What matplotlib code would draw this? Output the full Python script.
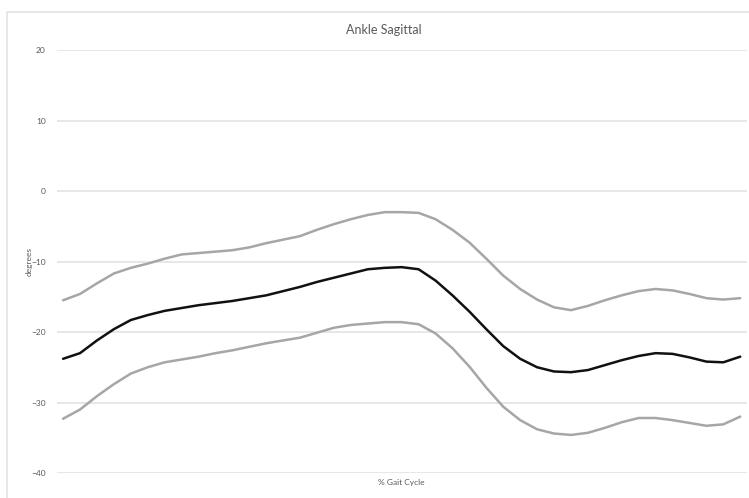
import matplotlib
matplotlib.use('Agg')
import matplotlib.pyplot as plt
from matplotlib.patches import Rectangle

# % gait cycle, 2.5% steps
gait = [i * 2.5 for i in range(41)]

upper = [-15.5, -14.6, -13.1, -11.7, -10.9, -10.3, -9.6, -9.0, -8.8, -8.6,
         -8.4, -8.0, -7.4, -6.9, -6.4, -5.5, -4.7, -4.0, -3.4, -3.0,
         -3.0, -3.1, -4.0, -5.5, -7.3, -9.6, -12.0, -13.9, -15.4, -16.5,
         -16.9, -16.3, -15.5, -14.8, -14.2, -13.9, -14.1, -14.6, -15.2, -15.4,
         -15.2]

mean = [-23.8, -23.0, -21.2, -19.6, -18.3, -17.6, -17.0, -16.6, -16.2, -15.9,
        -15.6, -15.2, -14.8, -14.2, -13.6, -12.9, -12.3, -11.7, -11.1, -10.9,
        -10.8, -11.1, -12.7, -14.8, -17.1, -19.6, -22.0, -23.8, -25.0, -25.6,
        -25.7, -25.4, -24.7, -24.0, -23.4, -23.0, -23.1, -23.6, -24.2, -24.3,
        -23.5]

lower = [-32.3, -31.0, -29.1, -27.4, -25.9, -25.0, -24.3, -23.9, -23.5, -23.0,
         -22.6, -22.1, -21.6, -21.2, -20.8, -20.1, -19.4, -19.0, -18.8, -18.6,
         -18.6, -18.9, -20.2, -22.3, -24.9, -27.9, -30.6, -32.5, -33.8, -34.4,
         -34.6, -34.3, -33.6, -32.8, -32.2, -32.2, -32.5, -32.9, -33.3, -33.1,
         -32.0]

yticks = [20, 10, 0, -10, -20, -30, -40]

plt.rcParams['font.family'] = ['Lato', 'DejaVu Sans']
txt = '#595959'

fig = plt.figure(figsize=(7.49, 4.98), dpi=100)
# light chart border (only left and top edges show)
fig.patches.append(Rectangle((7 / 749, -0.1), 1.2, 1.1 - 12 / 498,
                             transform=fig.transFigure, fill=False,
                             edgecolor='#e3e3e3', linewidth=1.2))

ax = fig.add_axes([57 / 749, 25 / 498, 690 / 749, 423 / 498])
style = dict(lw=1.8, solid_capstyle='round', solid_joinstyle='round')
ax.plot(gait, upper, color='#a6a6a6', **style)
ax.plot(gait, lower, color='#a6a6a6', **style)
ax.plot(gait, mean, color='#111111', **style)

ax.set_ylim(-40, 20)
ax.set_xlim(-0.9, 101.0)
ax.set_yticks(yticks)
ax.set_xticks([])
ax.yaxis.grid(True, color='#e3e3e3', lw=1.2)
ax.set_axisbelow(True)
for s in ax.spines.values():
    s.set_visible(False)
ax.tick_params(axis='y', length=0, pad=8, labelsize=6, labelcolor=txt)

fig.text(384 / 749, 1 - 30 / 498, 'Ankle Sagittal', ha='center', va='center',
         fontsize=9, color=txt)
fig.text(401 / 749, 1 - 482 / 498, '% Gait Cycle', ha='center', va='center',
         fontsize=6, color=txt)
fig.text(29 / 749, 1 - 262 / 498, 'degrees', ha='center', va='center',
         rotation=90, fontsize=6, color=txt)

fig.savefig('out.png', dpi=100)
